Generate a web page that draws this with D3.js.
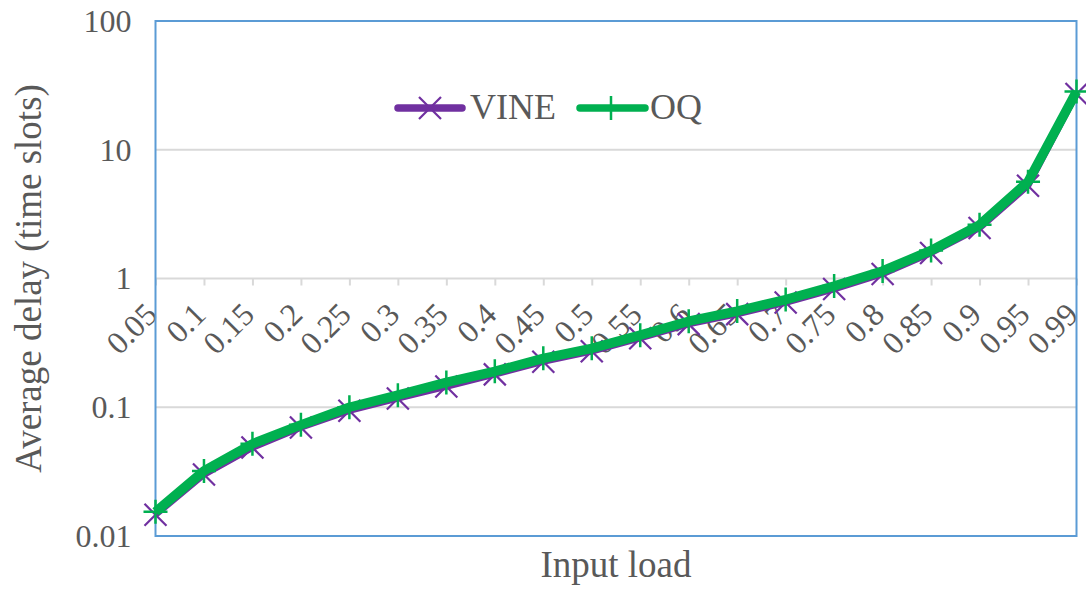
<!DOCTYPE html>
<html>
<head>
<meta charset="utf-8">
<script src="https://cdn.jsdelivr.net/npm/d3@7/dist/d3.min.js"></script>
<style>
  html, body { margin: 0; padding: 0; background: #fff; }
  svg text { font-family: "Liberation Serif", "Times New Roman", serif; fill: #595959; }
</style>
</head>
<body>
<svg id="chart" width="1086" height="589"></svg>
<script>
// Input load categories
const categories = ["0.05","0.1","0.15","0.2","0.25","0.3","0.35","0.4","0.45","0.5",
                    "0.55","0.6","0.65","0.7","0.75","0.8","0.85","0.9","0.95","0.99"];
// Average delay in time slots
const vine = [0.0146, 0.030, 0.0486, 0.0696, 0.094, 0.117, 0.145, 0.180, 0.226, 0.272,
              0.344, 0.442, 0.529, 0.650, 0.828, 1.084, 1.58, 2.47, 5.26, 27.1];
const oq   = [0.0154, 0.032, 0.052, 0.073, 0.100, 0.124, 0.156, 0.190, 0.240, 0.287,
              0.363, 0.466, 0.558, 0.686, 0.874, 1.144, 1.65, 2.61, 5.65, 28.4];
const yTicks = [0.01, 0.1, 1, 10, 100];
const yTickLabels = ["0.01", "0.1", "1", "10", "100"];

const svg = d3.select("#chart");
const plotLeft = 155.5, plotRight = 1076.5, plotTop = 21, plotBottom = 536;

const x = d3.scalePoint().domain(categories).range([plotLeft, plotRight]);
const y = d3.scaleLog().domain([0.01, 100]).range([plotBottom, plotTop]);

const gridColor = "#d9d9d9";
const frameColor = "#5b9bd5";
const purple = "#7030a0";
const green = "#00b050";

// horizontal gridlines (inner decades)
svg.append("g").selectAll("line")
  .data(yTicks.filter(v => v > 0.01 && v < 100))
  .join("line")
  .attr("x1", plotLeft).attr("x2", plotRight)
  .attr("y1", d => y(d)).attr("y2", d => y(d))
  .attr("stroke", gridColor).attr("stroke-width", 2);

// category axis crossing at 1
const xAxis = svg.append("g")
  .attr("transform", `translate(0,${y(1)})`)
  .call(d3.axisBottom(x).tickSize(7).tickSizeOuter(0));
xAxis.select(".domain").remove();
xAxis.selectAll(".tick line").attr("stroke", gridColor).attr("stroke-width", 2);
xAxis.selectAll(".tick text")
  .attr("font-size", 32)
  .attr("text-anchor", "end")
  .attr("dy", null).attr("y", null)
  .attr("transform", "translate(3,38) rotate(-45)")
  .attr("fill", "#595959");

// value axis
const yAxis = svg.append("g")
  .attr("transform", `translate(${plotLeft},0)`)
  .call(d3.axisLeft(y).tickValues(yTicks).tickFormat((d, i) => yTickLabels[i]).tickSize(0).tickPadding(24));
yAxis.select(".domain").remove();
yAxis.selectAll(".tick text").attr("font-size", 32).attr("fill", "#595959");

// plot frame
svg.append("rect")
  .attr("x", plotLeft).attr("y", plotTop)
  .attr("width", plotRight - plotLeft).attr("height", plotBottom - plotTop)
  .attr("fill", "none").attr("stroke", frameColor).attr("stroke-width", 2);

const line = d3.line().x((d, i) => x(categories[i])).y(d => y(d));

function crossPath(cx, cy, r) {
  return `M${cx - r},${cy - r}L${cx + r},${cy + r}M${cx - r},${cy + r}L${cx + r},${cy - r}`;
}
function plusPath(cx, cy, r) {
  return `M${cx - r},${cy}L${cx + r},${cy}M${cx},${cy - r}L${cx},${cy + r}`;
}

// VINE series
svg.append("path").datum(vine)
  .attr("d", line).attr("fill", "none")
  .attr("stroke", purple).attr("stroke-width", 6.5).attr("stroke-linejoin", "round");
svg.append("g").selectAll("path").data(vine).join("path")
  .attr("d", (d, i) => crossPath(x(categories[i]), y(d), 11))
  .attr("stroke", purple).attr("stroke-width", 2.2);

// OQ series
svg.append("path").datum(oq)
  .attr("d", line).attr("fill", "none")
  .attr("stroke", green).attr("stroke-width", 9.5).attr("stroke-linejoin", "round");
svg.append("g").selectAll("path").data(oq).join("path")
  .attr("d", (d, i) => plusPath(x(categories[i]), y(d), 12))
  .attr("stroke", green).attr("stroke-width", 2.5);

// legend
const legend = svg.append("g");
const ly = 108;
legend.append("line").attr("x1", 398).attr("x2", 462).attr("y1", ly).attr("y2", ly)
  .attr("stroke", purple).attr("stroke-width", 7.5).attr("stroke-linecap", "round");
legend.append("path").attr("d", crossPath(430, ly, 11))
  .attr("stroke", purple).attr("stroke-width", 2.2);
legend.append("text").attr("x", 470).attr("y", 119).attr("font-size", 36).text("VINE");
legend.append("line").attr("x1", 580).attr("x2", 645).attr("y1", ly).attr("y2", ly)
  .attr("stroke", green).attr("stroke-width", 7.5).attr("stroke-linecap", "round");
legend.append("path").attr("d", plusPath(611, ly, 12))
  .attr("stroke", green).attr("stroke-width", 2.5);
legend.append("text").attr("x", 650).attr("y", 119).attr("font-size", 36).text("OQ");

// axis titles
svg.append("text")
  .attr("x", (plotLeft + plotRight) / 2).attr("y", 577)
  .attr("text-anchor", "middle").attr("font-size", 37)
  .text("Input load");
svg.append("text")
  .attr("transform", `translate(41,${(plotTop + plotBottom) / 2}) rotate(-90)`)
  .attr("text-anchor", "middle").attr("font-size", 37)
  .text("Average delay (time slots)");
</script>
</body>
</html>
